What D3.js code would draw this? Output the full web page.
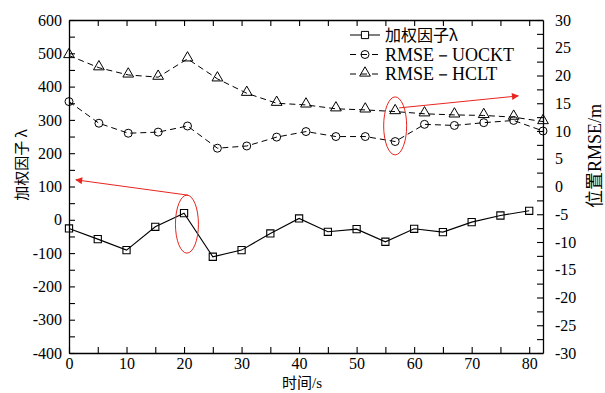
<!DOCTYPE html>
<html>
<head>
<meta charset="utf-8">
<script src="https://cdnjs.cloudflare.com/ajax/libs/d3/7.8.5/d3.min.js"></script>
<style>
  body { margin: 0; background: #fff; }
  text { font-family: "Liberation Serif", "Times New Roman", serif; fill: #000; }
</style>
</head>
<body>
<div id="chart"></div>
<script>
// lambda series: time in s, weighting factor
var lambdaTime = [0, 5, 10, 15, 20, 25, 30, 35, 40, 45, 50, 55, 60, 65, 70, 75, 80];
var lambdaVals = [-26, -58, -91, -21, 20, -111, -91, -41, 4, -36, -28, -66, -27, -37, -7, 13, 27];

// RMSE series (right axis, m)
var rmseTime = [0, 5.2, 10.3, 15.5, 20.6, 25.8, 30.9, 36.1, 41.2, 46.4, 51.5, 56.7, 61.8, 67.0, 72.1, 77.3, 82.4];
var rmseUOCKT = [15.3, 11.4, 9.6, 9.8, 10.9, 6.9, 7.3, 8.9, 9.9, 9.0, 9.0, 8.1, 11.2, 11.0, 11.5, 11.9, 10.0];
var rmseHCLT = [23.6, 21.4, 20.1, 19.7, 23.0, 19.4, 16.8, 15.0, 14.7, 14.0, 13.8, 13.5, 13.1, 12.9, 12.8, 12.5, 11.7];

var xTicks = [0, 10, 20, 30, 40, 50, 60, 70, 80];
var leftTicks = [-400, -300, -200, -100, 0, 100, 200, 300, 400, 500, 600];
var rightTicks = [-30, -25, -20, -15, -10, -5, 0, 5, 10, 15, 20, 25, 30];
var legendLabels = ["加权因子λ", "RMSE－UOCKT", "RMSE－HCLT"];

// red annotations (x in s, y in left-axis units)
var ellipses = [{x: 20.5, y: -13}, {x: 56.7, y: 282}];
var arrows = [
  {x1: 20.7, y1: 74, x2: 1.2, y2: 120},
  {x1: 57.4, y1: 336, x2: 78.1, y2: 372}
];

var width = 605, height = 393;
var margin = {top: 20, right: 62, bottom: 40, left: 69};
var w = width - margin.left - margin.right,
    h = height - margin.top - margin.bottom;
var serif = "'Liberation Serif', 'Times New Roman', serif";
var cjk = "'Noto Sans CJK SC', sans-serif";

var svg = d3.select("#chart").append("svg")
    .attr("width", width).attr("height", height);

svg.append("defs").append("marker")
    .attr("id", "arr").attr("viewBox", "0 0 10 10")
    .attr("refX", 9).attr("refY", 5)
    .attr("markerWidth", 10).attr("markerHeight", 7)
    .attr("markerUnits", "userSpaceOnUse")
    .attr("orient", "auto")
    .append("path").attr("d", "M0,0 L10,5 L0,10 z").attr("fill", "#e8251f");

var g = svg.append("g").attr("transform", "translate(" + margin.left + "," + margin.top + ")");

var x = d3.scaleLinear().domain([0, 82.4]).range([0, w]);
var y = d3.scaleLinear().domain([-400, 600]).range([h, 0]);
var y2 = d3.scaleLinear().domain([-30, 30]).range([h, 0]);

// axes, ticks inward
function styleAxis(sel) {
  sel.attr("font-family", serif).attr("font-size", 16);
  sel.selectAll("text").style("font-family", serif).style("font-size", "16px");
  sel.select(".domain").attr("stroke-width", 1.3);
  sel.selectAll(".tick line").attr("stroke-width", 1.1);
}
function minus(d) { return String(d).replace("−", "-"); }

g.append("g").attr("transform", "translate(0," + h + ")")
  .call(d3.axisBottom(x).tickValues(d3.range(0, 81, 5)).tickSize(-6).tickPadding(5).tickSizeOuter(0)
    .tickFormat(function(d) { return xTicks.indexOf(d) >= 0 ? d : ""; }))
  .call(styleAxis);
g.append("g")
  .call(d3.axisTop(x).tickValues(d3.range(0, 81, 5)).tickSize(-6).tickSizeOuter(0).tickFormat(""))
  .call(styleAxis);
g.append("g")
  .call(d3.axisLeft(y).tickValues(d3.range(-400, 601, 50)).tickSize(-6).tickPadding(7).tickSizeOuter(0)
    .tickFormat(function(d) { return leftTicks.indexOf(d) >= 0 ? minus(d) : ""; }))
  .call(styleAxis);
g.append("g").attr("transform", "translate(" + w + ",0)")
  .call(d3.axisRight(y2).tickValues(d3.range(-30, 30.1, 2.5)).tickSize(-6).tickPadding(12).tickSizeOuter(0)
    .tickFormat(function(d) { return rightTicks.indexOf(d) >= 0 ? minus(d) : ""; }))
  .call(styleAxis);

// series
var lambdaData = lambdaTime.map(function(t, i) { return {x: t, v: lambdaVals[i]}; });
var uData = rmseTime.map(function(t, i) { return {x: t, v: rmseUOCKT[i]}; });
var hData = rmseTime.map(function(t, i) { return {x: t, v: rmseHCLT[i]}; });

var lineL = d3.line().x(function(d) { return x(d.x); }).y(function(d) { return y(d.v); });
var lineR = d3.line().x(function(d) { return x(d.x); }).y(function(d) { return y2(d.v); });

g.append("path").datum(lambdaData).attr("d", lineL)
  .attr("fill", "none").attr("stroke", "#000").attr("stroke-width", 1.1);
g.append("path").datum(uData).attr("d", lineR)
  .attr("fill", "none").attr("stroke", "#000").attr("stroke-width", 1).attr("stroke-dasharray", "6,4");
g.append("path").datum(hData).attr("d", lineR)
  .attr("fill", "none").attr("stroke", "#000").attr("stroke-width", 1).attr("stroke-dasharray", "6,4");

var sq = d3.symbol().type(d3.symbolSquare).size(52);
var ci = d3.symbol().type(d3.symbolCircle).size(50);
var tr = d3.symbol().type(d3.symbolTriangle).size(50);

g.selectAll(".sq").data(lambdaData).enter().append("path")
  .attr("d", sq).attr("transform", function(d) { return "translate(" + x(d.x) + "," + y(d.v) + ")"; })
  .attr("fill", "none").attr("stroke", "#000").attr("stroke-width", 1.1);
g.selectAll(".ci").data(uData).enter().append("path")
  .attr("d", ci).attr("transform", function(d) { return "translate(" + x(d.x) + "," + y2(d.v) + ")"; })
  .attr("fill", "none").attr("stroke", "#000").attr("stroke-width", 1);
g.selectAll(".tr").data(hData).enter().append("path")
  .attr("d", tr).attr("transform", function(d) { return "translate(" + x(d.x) + "," + (y2(d.v) - 1) + ")"; })
  .attr("fill", "none").attr("stroke", "#000").attr("stroke-width", 1);

// red annotations
g.selectAll(".ell").data(ellipses).enter().append("ellipse")
  .attr("cx", function(d) { return x(d.x); }).attr("cy", function(d) { return y(d.y); })
  .attr("rx", 11.5).attr("ry", 29)
  .attr("fill", "none").attr("stroke", "#e8251f").attr("stroke-width", 1);
g.selectAll(".arr").data(arrows).enter().append("line")
  .attr("x1", function(d) { return x(d.x1); }).attr("y1", function(d) { return y(d.y1); })
  .attr("x2", function(d) { return x(d.x2); }).attr("y2", function(d) { return y(d.y2); })
  .attr("stroke", "#e8251f").attr("stroke-width", 1).attr("marker-end", "url(#arr)");

// legend
var leg = svg.append("g").attr("transform", "translate(350,35)");
var legSym = [sq, ci, tr];
legendLabels.forEach(function(lab, i) {
  var row = leg.append("g").attr("transform", "translate(0," + (i * 19.5) + ")");
  row.append("line").attr("x1", 0).attr("x2", 30).attr("y1", 0).attr("y2", 0)
    .attr("stroke", "#000").attr("stroke-width", 1).attr("stroke-dasharray", i === 0 ? null : "6,5");
  row.append("path").attr("d", legSym[i]).attr("transform", "translate(15," + (i === 2 ? -1 : 0) + ")")
    .attr("fill", i === 0 ? "#fff" : "none").attr("stroke", "#000").attr("stroke-width", 1);
  row.append("text").attr("x", 35).attr("y", 6)
    .style("font-size", i === 0 ? "16px" : "18px")
    .style("font-family", i === 0 ? cjk : serif)
    .text(lab);
});

// axis titles
svg.append("text")
  .attr("transform", "translate(27,165) rotate(-90)")
  .attr("text-anchor", "middle").style("font-size", "15px")
  .style("font-family", cjk)
  .text("加权因子 λ");
var rt = svg.append("text")
  .attr("transform", "translate(601,156) rotate(-90)")
  .attr("text-anchor", "middle").style("font-size", "18px");
rt.append("tspan").style("font-family", cjk).text("位置");
rt.append("tspan").style("font-family", serif).text("RMSE/m");
var bt = svg.append("text").attr("x", 302).attr("y", 388)
  .attr("text-anchor", "middle").style("font-size", "15px");
bt.append("tspan").style("font-family", cjk).text("时间");
bt.append("tspan").style("font-family", serif).text("/s");
</script>
</body>
</html>
